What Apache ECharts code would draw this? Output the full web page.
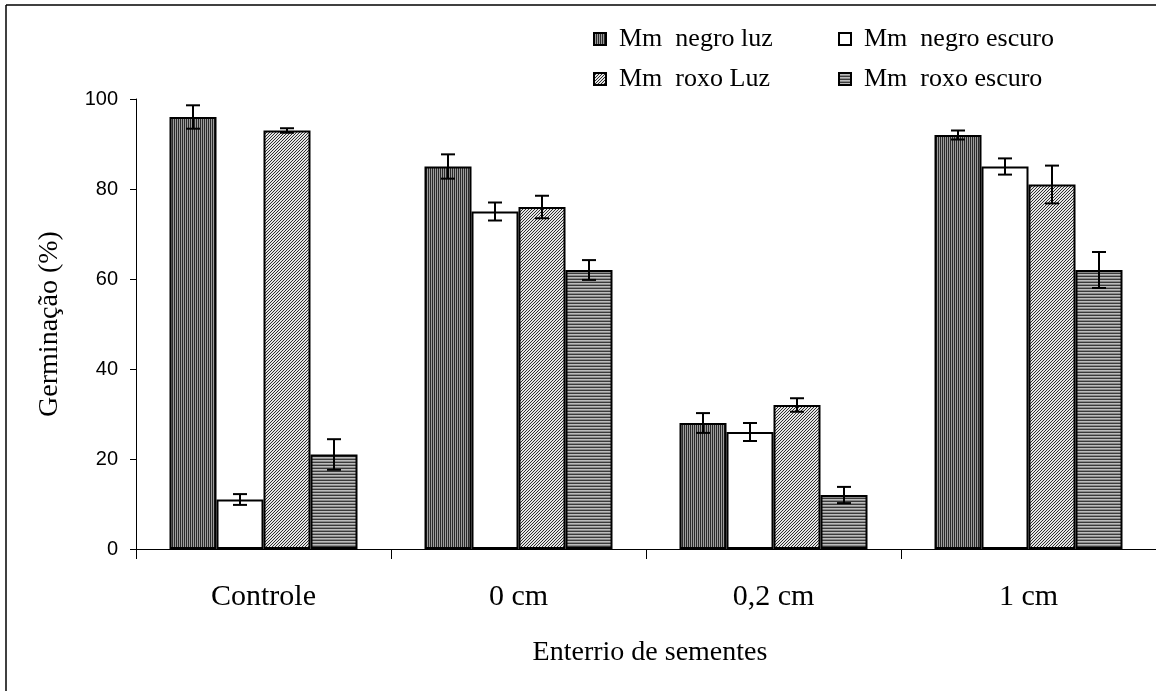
<!DOCTYPE html>
<html>
<head>
<meta charset="utf-8">
<script src="https://cdn.jsdelivr.net/npm/echarts@6/dist/echarts.min.js"></script>
<style>
  html, body { margin: 0; padding: 0; background: #fff; }
  #chart { width: 1156px; height: 696px; }
</style>
</head>
<body>
<div id="chart"></div>
<script>
// Burial depth treatments
const categories = ['Controle', '0 cm', '0,2 cm', '1 cm'];

// Series names
const seriesNames = ['Mm  negro luz', 'Mm  negro escuro', 'Mm  roxo Luz', 'Mm  roxo escuro'];

// Mean germination (%)
const negroLuz    = [96, 85, 28, 92];
const negroEscuro = [11, 75, 26, 85];
const roxoLuz     = [93, 76, 32, 81];
const roxoEscuro  = [21, 62, 12, 62];

// Error (± half-width)
const negroLuzErr    = [2.6, 2.7, 2.2, 1.0];
const negroEscuroErr = [1.2, 2.0, 2.0, 1.8];
const roxoLuzErr     = [0.5, 2.5, 1.5, 4.2];
const roxoEscuroErr  = [3.4, 2.2, 1.8, 4.0];

const yTicks = [0, 20, 40, 60, 80, 100];

const means = [negroLuz, negroEscuro, roxoLuz, roxoEscuro];
const errs = [negroLuzErr, negroEscuroErr, roxoLuzErr, roxoEscuroErr];

// Small repeating fill patterns
function makePattern(w, h, paint) {
  const c = document.createElement('canvas');
  c.width = w; c.height = h;
  const ctx = c.getContext('2d');
  paint(ctx);
  return { image: c, repeat: 'repeat' };
}
const vertStripes = makePattern(2, 2, ctx => {
  ctx.fillStyle = '#9c9c9c'; ctx.fillRect(0, 0, 2, 2);
  ctx.fillStyle = '#2a2a2a'; ctx.fillRect(0, 0, 1, 2);
});
const diagHatch = makePattern(3, 3, ctx => {
  ctx.fillStyle = '#e4e4e4'; ctx.fillRect(0, 0, 3, 3);
  ctx.fillStyle = '#2e2e2e';
  for (let x = 0; x < 3; x++) ctx.fillRect(x, 2 - x, 1, 1);
});
const horizStripes = makePattern(3, 3, ctx => {
  ctx.fillStyle = '#bcbcbc'; ctx.fillRect(0, 0, 3, 3);
  ctx.fillStyle = '#3a3a3a'; ctx.fillRect(0, 0, 3, 1);
  ctx.fillStyle = '#8a8a8a'; ctx.fillRect(0, 2, 3, 1);
});
const fills = [vertStripes, '#ffffff', diagHatch, horizStripes];

const BAR_W = 47;
const serif = 'Liberation Serif';
const sans = 'Liberation Sans';

const barSeries = seriesNames.map((name, i) => ({
  name: name,
  type: 'bar',
  barWidth: BAR_W,
  barGap: '0%',
  data: means[i],
  itemStyle: { color: fills[i], borderColor: '#000', borderWidth: 2 },
  z: 2
}));

const errorSeries = seriesNames.map((name, i) => ({
  type: 'custom',
  name: name + ' erro',
  z: 5,
  silent: true,
  data: categories.map((c, k) => [k, means[i][k] - errs[i][k], means[i][k] + errs[i][k]]),
  renderItem: function (params, api) {
    const lo = api.coord([api.value(0), api.value(1)]);
    const hi = api.coord([api.value(0), api.value(2)]);
    const x = lo[0] + (i - 1.5) * BAR_W;
    const cap = 7;
    const style = { stroke: '#000', lineWidth: 2 };
    return {
      type: 'group',
      children: [
        { type: 'line', shape: { x1: x, y1: lo[1], x2: x, y2: hi[1] }, style: style },
        { type: 'line', shape: { x1: x - cap, y1: lo[1], x2: x + cap, y2: lo[1] }, style: style },
        { type: 'line', shape: { x1: x - cap, y1: hi[1], x2: x + cap, y2: hi[1] }, style: style }
      ]
    };
  }
}));

const legendText = { fontFamily: serif, fontSize: 26, lineHeight: 26, color: '#000', padding: [0, 0, 0, 8] };
const legendBase = {
  orient: 'vertical', top: 26, padding: 0,
  itemWidth: 12, itemHeight: 12, itemGap: 14,
  icon: 'rect', textStyle: legendText, selectedMode: false
};

const chart = echarts.init(document.getElementById('chart'), null, { renderer: 'canvas' });
chart.setOption({
  animation: false,
  backgroundColor: '#fff',
  grid: { left: 136, top: 99, width: 1028, height: 450, containLabel: false },
  legend: [
    Object.assign({}, legendBase, { data: [seriesNames[0], seriesNames[2]], left: 593 }),
    Object.assign({}, legendBase, { data: [seriesNames[1], seriesNames[3]], left: 838 })
  ],
  xAxis: {
    type: 'category',
    data: categories,
    boundaryGap: true,
    axisLine: { lineStyle: { color: '#000', width: 1 } },
    axisTick: { show: true, length: 10, alignWithLabel: false, lineStyle: { color: '#000' } },
    axisLabel: { fontFamily: serif, fontSize: 30, color: '#000', margin: 33 },
    splitLine: { show: false }
  },
  yAxis: {
    type: 'value',
    min: yTicks[0], max: yTicks[yTicks.length - 1], interval: 20,
    axisLine: { show: true, lineStyle: { color: '#000', width: 1 } },
    axisTick: { show: true, length: 6, lineStyle: { color: '#000' } },
    axisLabel: { fontFamily: sans, fontSize: 20, color: '#000', margin: 18 },
    splitLine: { show: false }
  },
  graphic: [
    { type: 'line', shape: { x1: 6, y1: 5, x2: 1160, y2: 5 }, style: { stroke: '#000', lineWidth: 1.5 } },
    { type: 'line', shape: { x1: 6, y1: 5, x2: 6, y2: 691 }, style: { stroke: '#000', lineWidth: 1.5 } },
    {
      type: 'text', x: 650, y: 653,
      style: { text: 'Enterrio de sementes', fontFamily: serif, fontSize: 28, fill: '#000', textAlign: 'center', textVerticalAlign: 'middle' }
    },
    {
      type: 'text', x: 50, y: 324, rotation: Math.PI / 2,
      style: { text: 'Germinação (%)', fontFamily: serif, fontSize: 28, fill: '#000', textAlign: 'center', textVerticalAlign: 'middle' }
    }
  ],
  series: barSeries.concat(errorSeries)
});
</script>
</body>
</html>
